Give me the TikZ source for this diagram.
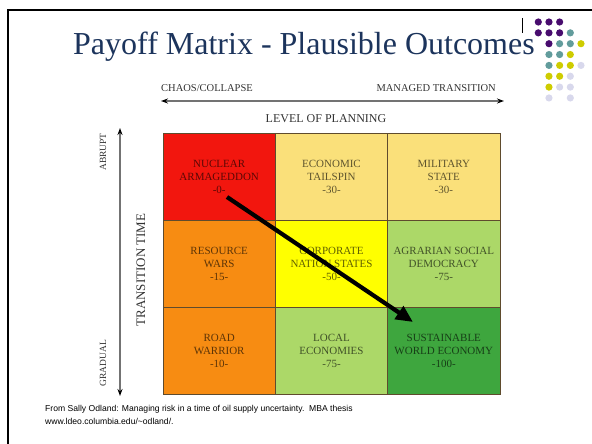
\documentclass[tikz,border=0pt]{standalone}
\usepackage{fontspec}
\setmainfont{Liberation Serif}
\setsansfont{Liberation Sans}
\usetikzlibrary{arrows.meta}

\definecolor{titleblue}{RGB}{28,52,92}
\definecolor{labelgray}{RGB}{50,50,50}
\definecolor{axisgray}{RGB}{115,115,115}
\definecolor{gridline}{RGB}{95,75,45}
\definecolor{cred}{RGB}{242,22,14}
\definecolor{cpale}{RGB}{250,224,122}
\definecolor{corange}{RGB}{247,140,18}
\definecolor{cyellow}{RGB}{255,255,0}
\definecolor{clight}{RGB}{172,216,104}
\definecolor{cgreen}{RGB}{62,166,62}
\definecolor{dpurple}{RGB}{72,12,110}
\definecolor{dteal}{RGB}{98,156,156}
\definecolor{dyellow}{RGB}{206,204,0}
\definecolor{dlav}{RGB}{216,216,236}

\begin{document}
\begin{tikzpicture}[x=1pt,y=-1pt,
    cell/.style={draw=gridline, line width=0.8pt, minimum width=112.3pt,
      minimum height=87pt, inner sep=0pt, align=center,
      font=\fontsize{11}{13}\selectfont},
    axislabel/.style={text=labelgray, inner sep=0pt},
    axisline/.style={draw=axisgray, line width=1.2pt,
      {Stealth[black,length=7pt,width=5pt]}-{Stealth[black,length=7pt,width=5pt]}}]
  \useasboundingbox (0,0) rectangle (592,444);

  % draw frame
  \draw[line width=2.5pt] (8,444) -- (8,10) -- (592,10);
  \draw[line width=0.8pt] (522,18) -- (522,33);

  % draw dots
  \foreach \x/\y/\c in {0/0/dpurple,1/0/dpurple,2/0/dpurple,
      0/1/dpurple,1/1/dpurple,2/1/dpurple,3/1/dteal,
      1/2/dpurple,2/2/dteal,3/2/dteal,4/2/dyellow,
      1/3/dteal,2/3/dteal,3/3/dyellow,
      1/4/dteal,2/4/dyellow,3/4/dyellow,4/4/dlav,
      1/5/dyellow,2/5/dyellow,3/5/dlav,
      1/6/dyellow,2/6/dlav,3/6/dlav,
      1/7/dlav,3/7/dlav}
    \fill[\c] (538.3+10.67*\x,22+10.85*\y) circle[radius=3.6pt];

  % draw title
  \node[anchor=base west, inner sep=0pt, text=titleblue,
    font=\fontsize{32}{36}\selectfont] (title) at (73,55)
    {Payoff Matrix - Plausible Outcomes};

  % draw level of planning axis
  \node[axislabel, anchor=west, font=\fontsize{10.5}{12}\selectfont] (chaos) at (161,88) {CHAOS/COLLAPSE};
  \node[axislabel, anchor=east, font=\fontsize{10.5}{12}\selectfont] (managed) at (496,88) {MANAGED TRANSITION};
  \coordinate (chaosend) at (161,101);
  \coordinate (managedend) at (504,101);
  \draw[axisline] (chaosend) -- (managedend);
  \node[axislabel, font=\fontsize{12}{14}\selectfont] (planning) at (326,119) {LEVEL OF PLANNING};

  % draw transition time axis
  \coordinate (abruptend) at (120,128);
  \coordinate (gradualend) at (120,396);
  \draw[axisline] (abruptend) -- (gradualend);
  \node[axislabel, rotate=90, font=\fontsize{9.5}{11}\selectfont] (abrupt) at (103,152) {ABRUPT};
  \node[axislabel, rotate=90, font=\fontsize{9.5}{11}\selectfont] (gradual) at (103,363) {GRADUAL};
  \node[axislabel, rotate=90, font=\fontsize{13}{15}\selectfont] (ttime) at (141,270) {TRANSITION TIME};

  % draw cells
  \foreach \name/\cx/\cy/\col/\txt in {
      nuclear/219.2/176.5/cred/{NUCLEAR\\ARMAGEDDON\\-0-},
      tailspin/331.5/176.5/cpale/{ECONOMIC\\TAILSPIN\\-30-},
      military/443.8/176.5/cpale/{MILITARY\\STATE\\-30-},
      wars/219.2/263.5/corange/{RESOURCE\\WARS\\-15-},
      corporate/331.5/263.5/cyellow/{CORPORATE\\NATION STATES\\-50-},
      agrarian/443.8/263.5/clight/{AGRARIAN SOCIAL\\DEMOCRACY\\-75-},
      warrior/219.2/350.5/corange/{ROAD\\WARRIOR\\-10-},
      local/331.5/350.5/clight/{LOCAL\\ECONOMIES\\-75-},
      sustainable/443.8/350.5/cgreen/{SUSTAINABLE\\WORLD ECONOMY\\-100-}}
    \node[cell, fill=\col, text=\col!38!black] (\name) at (\cx,\cy) {\txt};

  % draw path arrow
  \coordinate (pathstart) at (227,197);
  \coordinate (pathend) at (413,322);
  \draw[line width=4.2pt, -{Triangle[length=17pt,width=15pt]}] (pathstart) -- (pathend);

  % draw source
  \node[anchor=base west, inner sep=0pt, font=\sffamily\fontsize{8.6}{10}\selectfont] (source) at (45,411)
    {From Sally Odland: Managing risk in a time of oil supply uncertainty.\ \ MBA thesis};
  \node[anchor=base west, inner sep=0pt, font=\sffamily\fontsize{8.6}{10}\selectfont] (url) at (45,424)
    {www.ldeo.columbia.edu/\textasciitilde odland/.};
\end{tikzpicture}
\end{document}
